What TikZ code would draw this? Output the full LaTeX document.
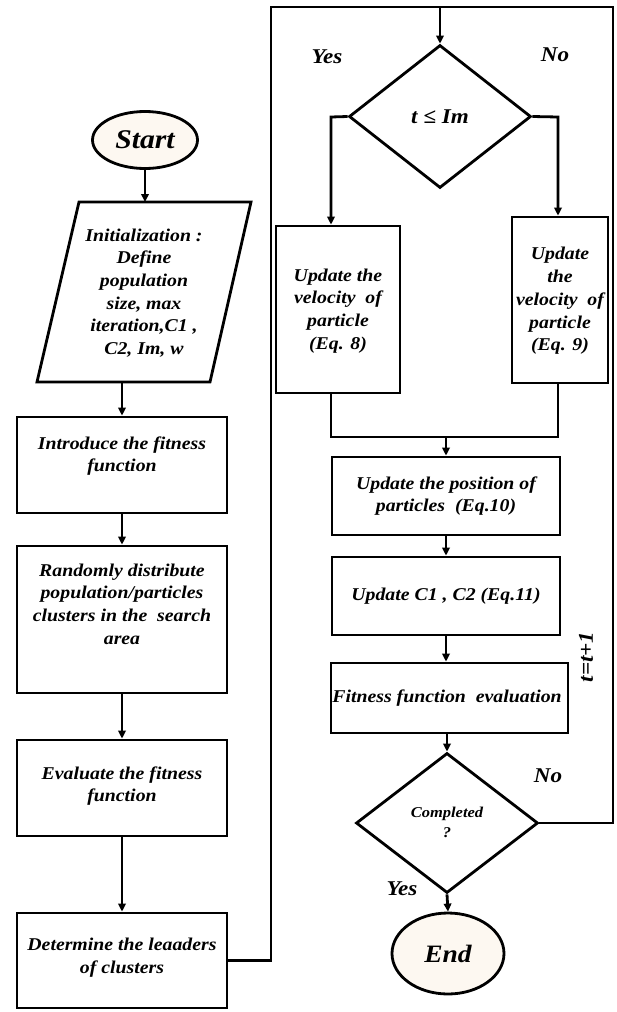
\documentclass[tikz,border=0pt]{standalone}
\usepackage{fontspec}
\setmainfont{Liberation Serif}[FakeStretch=1.1]
\usetikzlibrary{shapes.geometric,arrows.meta}
\definecolor{cream}{HTML}{FDF8F1}
\begin{document}
\begin{tikzpicture}[x=1pt,y=-1pt, line width=2.8pt,
  box/.style={draw, rectangle, inner sep=0pt},
  txt/.style={font=\bfseries\itshape\fontsize{18}{22.7}\selectfont, align=center, inner sep=0pt},
  arr/.style={-{Triangle[length=8pt,width=7.5pt]}},
  term/.style={draw, ellipse, fill=cream, inner sep=0pt},
  dia/.style={draw, diamond, inner sep=0pt},
  lbl/.style={font=\bfseries\itshape\fontsize{21}{24}\selectfont, inner sep=0pt}]
\useasboundingbox (0,0) rectangle (617,1012);

% ---------- left column ----------
\node[term, minimum width=105pt, minimum height=57pt, font=\bfseries\itshape\fontsize{27}{30}\selectfont] (start) at (145,140) {Start};

\draw (79,202) -- (251,202) -- (210,382) -- (37,382) -- cycle;
\node[txt] (init) at (144,293) {Initialization :\\Define\\population\\size, max\\iteration,C1 ,\\C2, Im, w};
\coordinate (initT) at (145,202);
\coordinate (initB) at (122,382);

\node[box, minimum width=210pt, minimum height=96pt] (intro) at (122,465) {};
\node[txt] (introT) at (122,456) {Introduce the fitness\\function};

\node[box, minimum width=210pt, minimum height=147pt] (rand) at (122,619.5) {};
\node[txt] (randT) at (122,604) {Randomly distribute\\population/particles\\clusters in the \ search\\area};

\node[box, minimum width=210pt, minimum height=96pt] (eval) at (122,788) {};
\node[txt] (evalT) at (122,786) {Evaluate the fitness\\function};

\node[box, minimum width=210pt, minimum height=95pt] (det) at (122,960.5) {};
\node[txt] (detT) at (122,958) {Determine the leaaders\\of clusters};

\draw[arr] (start.south) -- (initT);
\draw[arr] (initB) -- (intro.north);
\draw[arr] (intro.south) -- (rand.north);
\draw[arr] (rand.south) -- (eval.north);
\draw[arr] (eval.south) -- (det.north);

% ---------- loop frame ----------
\coordinate (tl) at (271,7);
\coordinate (tr) at (613,7);
\coordinate (tm) at (440,7);

% ---------- right column ----------
\node[dia, minimum width=182pt, minimum height=143pt] (dec) at (440,116.5) {};
\node[font=\bfseries\itshape\fontsize{21}{24}\selectfont, inner sep=0pt] (decT) at (440,117) {t ≤ Im};

\node[lbl] (yes1) at (327,57) {Yes};
\node[lbl] (no1) at (555,55) {No};

\node[box, minimum width=124pt, minimum height=167pt] (vL) at (338,309.5) {};
\node[txt] (vLT) at (338,311) {Update the\\velocity \ of\\particle\\(Eq. 8)};

\node[box, minimum width=96pt, minimum height=166pt] (vR) at (560,300) {};
\node[txt] (vRT) at (560,301) {Update\\the\\velocity \ of\\particle\\(Eq. 9)};

\coordinate (bL) at (331,117);
\coordinate (bR) at (558,117);
\coordinate (mL) at (331,437);
\coordinate (mR) at (558,437);
\coordinate (mM) at (446,437);

\node[box, minimum width=228pt, minimum height=78pt] (pos) at (446,496) {};
\node[txt] (posT) at (446,496) {Update the position of\\particles \ (Eq.10)};

\node[box, minimum width=228pt, minimum height=78pt] (cc) at (446,596) {};
\node[txt] (ccT) at (446,596) {Update C1 , C2 (Eq.11)};

\node[box, minimum width=237pt, minimum height=70pt] (fit) at (449.5,698) {};
\node[txt] (fitT) at (447,698) {Fitness function \ evaluation};

\node[dia, minimum width=182pt, minimum height=140pt] (comp) at (447,823) {};
\node[font=\bfseries\itshape\fontsize{15}{20}\selectfont, align=center, inner sep=0pt] (compT) at (447,822) {Completed\\?};

\node[term, minimum width=112pt, minimum height=81pt, font=\bfseries\itshape\fontsize{25}{28}\selectfont] (end) at (448,953.5) {End};

\node[lbl] (no2) at (548,776) {No};
\node[lbl] (yes2) at (402,889) {Yes};
\node[font=\bfseries\itshape\fontsize{21}{24}\selectfont, inner sep=0pt, rotate=90] (inc) at (586,657) {t=t+1};

% ---------- connectors ----------
\draw (det.east) -| (tl) -- (tr) |- (comp.east);
\draw[arr] (tm) -- (dec.north);
\draw[arr] (dec.west) -- (bL) -- (bL |- vL.north);
\draw[arr] (dec.east) -- (bR) -- (bR |- vR.north);
\draw (bL |- vL.south) -- (mL) -- (mR) -- (bR |- vR.south);
\draw[arr] (mM) -- (pos.north);
\draw[arr] (pos.south) -- (cc.north);
\draw[arr] (cc.south) -- (cc.south |- fit.north);
\draw[arr] (comp.north |- fit.south) -- (comp.north);
\draw[arr] (comp.south) -- (end.north);
\end{tikzpicture}
\end{document}
